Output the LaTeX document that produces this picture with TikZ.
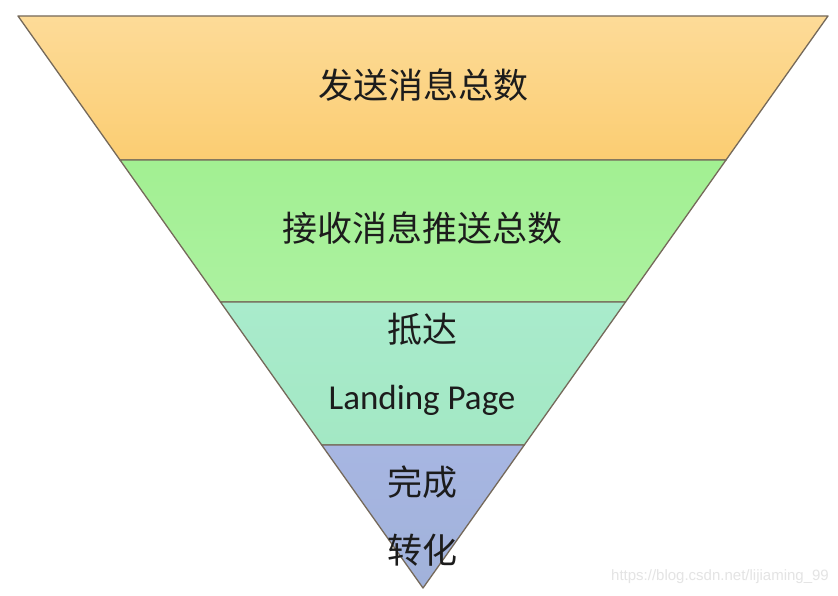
\documentclass[tikz,border=0pt]{standalone}
\usepackage{fontspec}
\newfontfamily\cjk{Noto Sans CJK SC}
\newfontfamily\lat{Carlito}
\newfontfamily\wm{Liberation Sans}
\definecolor{edge}{HTML}{75695A}
\definecolor{txt}{HTML}{1C1C1C}
\definecolor{oA}{HTML}{FDDB98}
\definecolor{oB}{HTML}{FBCD72}
\definecolor{gA}{HTML}{A2F092}
\definecolor{gB}{HTML}{ACF1A0}
\definecolor{tA}{HTML}{A9EBCC}
\definecolor{tB}{HTML}{A3E8C4}
\definecolor{bA}{HTML}{A7B6E2}
\definecolor{bB}{HTML}{A1B2DA}
\definecolor{wmc}{HTML}{E4E4E4}
\begin{document}
\begin{tikzpicture}[x=1pt,y=-1pt,
  band/.style={draw=edge,line width=1.3pt,line join=round},
  cn/.style={font=\cjk\fontsize{35}{38}\selectfont,text=txt,inner sep=0pt},
  ln/.style={font=\lat\fontsize{35}{38}\selectfont,text=txt,inner sep=0pt}]
\useasboundingbox (0,0) rectangle (838,596);
\fill[white] (0,0) rectangle (838,596);
% bands
\shade[top color=oA, bottom color=oB] (18,16) -- (828,16) -- (726,160) -- (120,160) -- cycle;
\draw[band] (18,16) -- (828,16) -- (726,160) -- (120,160) -- cycle;
\shade[top color=gA, bottom color=gB] (120,160) -- (726,160) -- (625.5,302) -- (220.5,302) -- cycle;
\draw[band] (120,160) -- (726,160) -- (625.5,302) -- (220.5,302) -- cycle;
\shade[top color=tA, bottom color=tB] (220.5,302) -- (625.5,302) -- (524.3,445) -- (321.7,445) -- cycle;
\draw[band] (220.5,302) -- (625.5,302) -- (524.3,445) -- (321.7,445) -- cycle;
\shade[top color=bA, bottom color=bB] (321.7,445) -- (524.3,445) -- (423,588) -- cycle;
\draw[band] (321.7,445) -- (524.3,445) -- (423,588) -- cycle;
% labels
\node[cn] (t1) at (423,85) {发送消息总数};
\node[cn] (t2) at (422,228) {接收消息推送总数};
\node[cn] (t3) at (422,329) {抵达};
\node[ln] (t4) at (422,400) {Landing Page};
\node[cn] (t5) at (422,482) {完成};
\node[cn] (t6) at (422,550) {转化};
\node[font=\wm\fontsize{15}{16}\selectfont,text=wmc,anchor=east,inner sep=0pt] (wm) at (829,577) {https://blog.csdn.net/lijiaming\_99};
\end{tikzpicture}
\end{document}
